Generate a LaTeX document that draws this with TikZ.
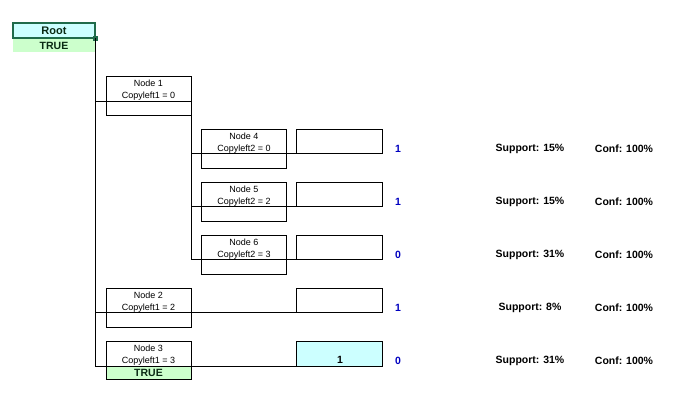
\documentclass[tikz,border=0pt]{standalone}
\usepackage{fontspec}
\setmainfont{Liberation Sans}
\definecolor{rootfill}{HTML}{CCFFFF}
\definecolor{truefill}{HTML}{CCFFCC}
\definecolor{rootedge}{HTML}{1F6B4A}
\definecolor{darktext}{HTML}{0A2A14}
\definecolor{numblue}{HTML}{0000C0}
\begin{document}
\begin{tikzpicture}[x=1pt,y=-1pt,line width=1pt,
  treebox/.style={draw=black,line width=1pt,outer sep=0pt,minimum width=85pt,minimum height=39pt,inner sep=0pt,anchor=north west},
  leafbox/.style={draw=black,line width=1pt,outer sep=0pt,minimum width=86pt,minimum height=24.5pt,inner sep=0pt,anchor=north west},
  small/.style={font=\fontsize{9}{10}\selectfont,inner sep=0pt},
  boldtxt/.style={font=\fontsize{10.5}{12}\selectfont\bfseries,inner sep=0pt},
  numtxt/.style={boldtxt,text=numblue},
  truebox/.style={fill=truefill,outer sep=0pt,minimum width=85pt,minimum height=13.5pt,inner sep=0pt,anchor=north west,font=\fontsize{10.5}{12}\selectfont\bfseries,text=darktext}]
\useasboundingbox (0,0) rectangle (698,413);
% Root
\node[draw=rootedge,line width=1.8pt,outer sep=0pt,fill=rootfill,minimum width=82pt,minimum height=15pt,inner sep=0pt,anchor=north west,font=\fontsize{11}{12}\selectfont\bfseries,text=darktext] (root) at (13,23) {Root};
\node[truebox,minimum width=82pt] (roottrue) at (13,38.8) {TRUE};
\node[fill=rootedge,minimum size=5pt,inner sep=0pt] (rootsq) at (root.south east) {};
% tree nodes
\node[treebox] (n1) at (106,76) {};
\node[small] (n1a) at (148.5,83) {Node 1};
\node[small] (n1b) at (148.5,96) {Copyleft1 = 0};
\node[treebox] (n4) at (201.5,129.3) {};
\node[small] (n4a) at (244,136) {Node 4};
\node[small] (n4b) at (244,149) {Copyleft2 = 0};
\node[treebox] (n5) at (201.5,182.3) {};
\node[small] (n5a) at (244,189) {Node 5};
\node[small] (n5b) at (244,202) {Copyleft2 = 2};
\node[treebox] (n6) at (201.5,235.3) {};
\node[small] (n6a) at (244,242) {Node 6};
\node[small] (n6b) at (244,255) {Copyleft2 = 3};
\node[treebox] (n2) at (106,288.3) {};
\node[small] (n2a) at (148.5,295) {Node 2};
\node[small] (n2b) at (148.5,308) {Copyleft1 = 2};
\node[treebox,minimum height=24.5pt] (n3) at (106,341.7) {};
\node[small] (n3a) at (148.5,348.5) {Node 3};
\node[small] (n3b) at (148.5,361) {Copyleft1 = 3};
\node[truebox,draw=black,line width=1pt] (n3true) at (106,366.2) {TRUE};
% leaf boxes
\node[leafbox] (l4) at (296,129.3) {};
\node[leafbox] (l5) at (296,182.3) {};
\node[leafbox] (l6) at (296,235.3) {};
\node[leafbox] (l2) at (296,288.3) {};
\node[leafbox,fill=rootfill] (l3) at (296,341.7) {};
\node[boldtxt] (l3v) at (340,360) {1};
% connectors
\coordinate (y1) at (0,101);
\draw (rootsq.center) -- (rootsq.center |- l3.south);
\draw (rootsq.center |- y1) -- (n1.east |- y1);
\draw (n1.east |- y1) -- (n1.east |- l6.south);
\draw (n1.east |- l4.south) -- (l4.south east);
\draw (n1.east |- l5.south) -- (l5.south east);
\draw (n1.east |- l6.south) -- (l6.south east);
\draw (rootsq.center |- l2.south) -- (l2.south east);
\draw (rootsq.center |- l3.south) -- (l3.south east);
% results
\node[numtxt] (r4) at (398,149) {1};
\node[numtxt] (r5) at (398,202) {1};
\node[numtxt] (r6) at (398,255) {0};
\node[numtxt] (r2) at (398,308) {1};
\node[numtxt] (r3) at (398,361) {0};
\node[boldtxt] (s4) at (530,149) {Support: 15\%};
\node[boldtxt] (s5) at (530,202) {Support: 15\%};
\node[boldtxt] (s6) at (530,255) {Support: 31\%};
\node[boldtxt] (s2) at (530,308) {Support: 8\%};
\node[boldtxt] (s3) at (530,361) {Support: 31\%};
\node[boldtxt] (c4) at (624,149) {Conf: 100\%};
\node[boldtxt] (c5) at (624,202) {Conf: 100\%};
\node[boldtxt] (c6) at (624,255) {Conf: 100\%};
\node[boldtxt] (c2) at (624,308) {Conf: 100\%};
\node[boldtxt] (c3) at (624,361) {Conf: 100\%};
\end{tikzpicture}
\end{document}
